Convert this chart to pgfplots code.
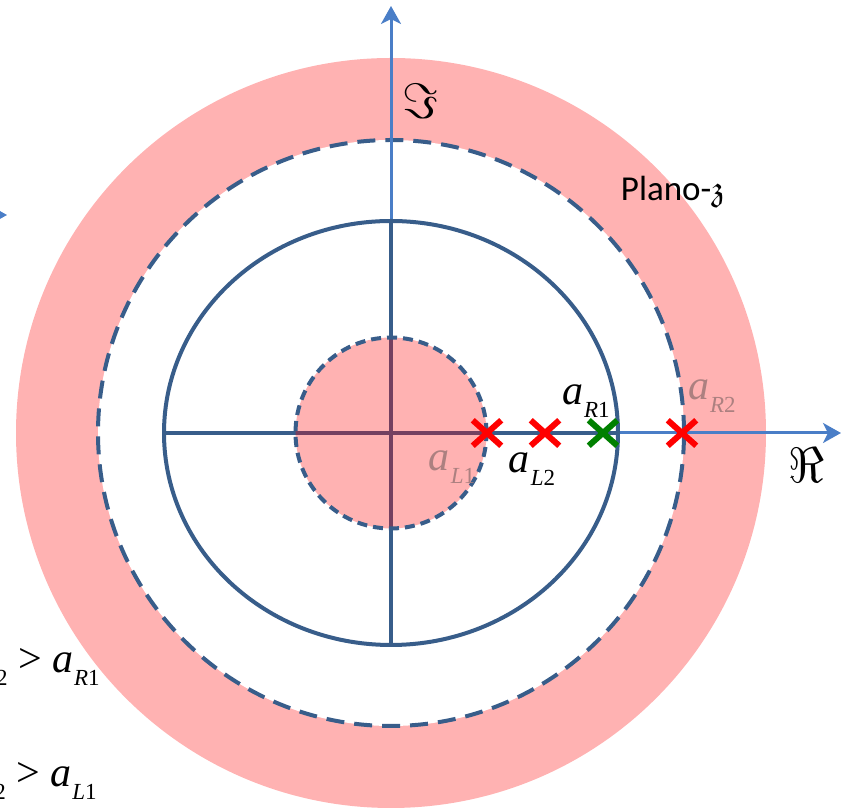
\documentclass[border=0pt]{standalone}
\usepackage{pgfplots}
\pgfplotsset{compat=1.18}
\usepackage{amsfonts}
\usepackage{fontspec}
\setmainfont{Liberation Serif}
\newfontfamily\tms{Liberation Serif}
\newfontfamily\calibri{Carlito}
\usetikzlibrary{arrows.meta}
\definecolor{pinkz}{RGB}{255,178,178}
\definecolor{dblue}{RGB}{56,93,138}
\definecolor{lblue}{RGB}{74,126,199}
\definecolor{fadetxt}{RGB}{172,128,128}
\definecolor{xgreen}{RGB}{0,128,0}
\newcommand{\asub}[2]{{\tms\fontsize{21}{21}\selectfont\itshape a\kern0.02em\raisebox{-0.3em}{\tms\fontsize{11.5}{11.5}\selectfont\itshape #1\upshape #2}}}
\newcommand{\gt}{{\tms\fontsize{21}{21}\selectfont\ \textgreater\ }}
\tikzset{arr/.style={lblue, line width=1.5pt, -{Stealth[length=9pt,width=10pt,inset=2.5pt]}}}
\begin{document}
\begin{tikzpicture}
\begin{axis}[hide axis, x=0.5pt, y=0.5pt, xmin=-391, xmax=451, ymin=-375, ymax=433, clip=false]
% rings
\fill[pinkz] (axis cs:0,0) circle[radius=375];
\fill[white] (axis cs:0,0) circle[radius=293];
\draw[dblue, line width=2pt, dash pattern=on 9pt off 5pt] (axis cs:0,0) circle[radius=293];
% light blue axes
\draw[arr] (axis cs:0,0) -- (axis cs:450,0);
\draw[arr] (axis cs:0,0) -- (axis cs:0,427);
\draw[arr] (axis cs:-440,218) -- (axis cs:-384,218);
% dark cross and solid ellipse
\addplot[dblue, line width=2pt] coordinates {(-227,0) (227,0)};
\addplot[dblue, line width=2pt] coordinates {(0,-212) (0,212)};
\draw[dblue, line width=2pt] (axis cs:0,0) ellipse[x radius=227, y radius=212];
% inner disc
\fill[red, opacity=0.3] (axis cs:0,0) circle[radius=95.5];
\draw[dblue, line width=2pt, dash pattern=on 5pt off 3pt] (axis cs:0,0) circle[radius=95.5];
% poles
\addplot[only marks, mark=x, mark size=9pt, mark options={line width=3pt, red, xscale=1.12}] coordinates {(96,0) (154,0) (291,0)};
\addplot[only marks, mark=x, mark size=9pt, mark options={line width=3pt, xgreen, xscale=1.12}] coordinates {(212,0)};
% labels
\node[inner sep=0] at (axis cs:29,332) {\fontsize{26}{26}\selectfont$\Im$};
\node[inner sep=0] at (axis cs:415,-32) {\fontsize{25}{25}\selectfont$\Re$};
\node[inner sep=0] at (axis cs:282,241) {\calibri\fontsize{17.5}{17.5}\selectfont Plano-$\mathfrak{z}$};
\node[inner sep=0] at (axis cs:195,32) {\asub{R}{1}};
\node[inner sep=0] at (axis cs:141,-36) {\asub{L}{2}};
\node[inner sep=0, text=fadetxt] at (axis cs:61,-34) {\asub{L}{1}};
\node[inner sep=0, text=fadetxt] at (axis cs:321,37) {\asub{R}{2}};
\node[inner sep=0, anchor=base east] at (axis cs:-291,-240) {\asub{R}{2}\gt\asub{R}{1}};
\node[inner sep=0, anchor=base east] at (axis cs:-294,-354) {\asub{L}{2}\gt\asub{L}{1}};
\end{axis}
\pgfresetboundingbox
\path (current axis.south west) rectangle (current axis.north east);
\end{tikzpicture}
\end{document}
